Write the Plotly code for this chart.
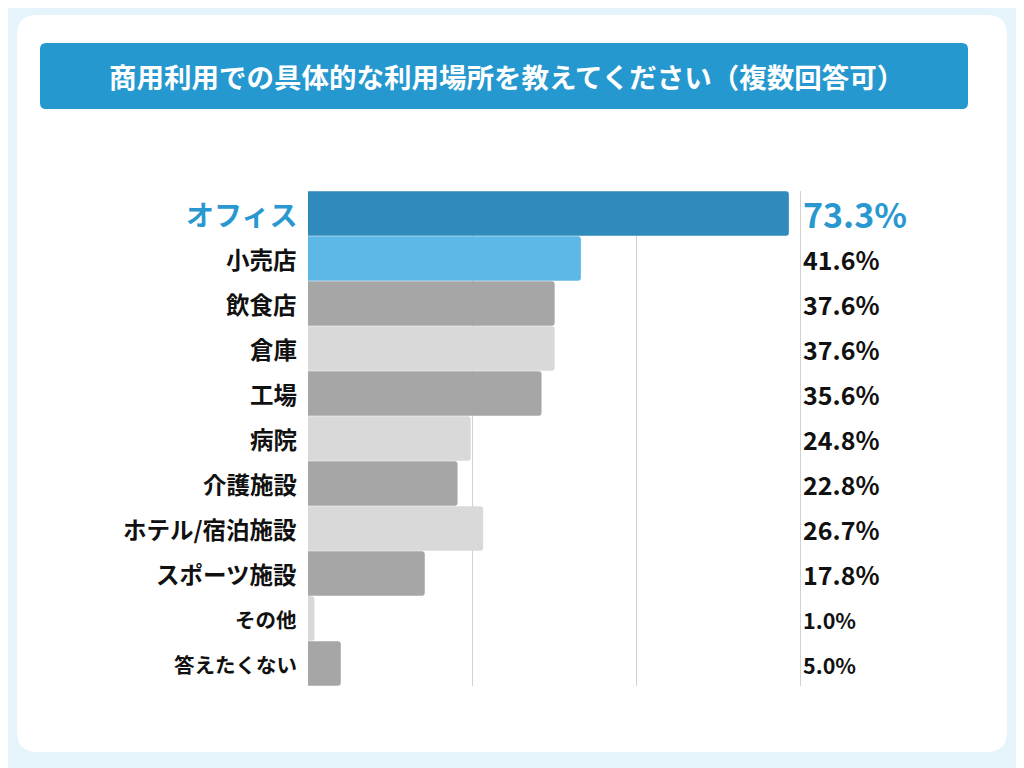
import plotly.graph_objects as go

# データ
categories = ["オフィス", "小売店", "飲食店", "倉庫", "工場", "病院", "介護施設",
              "ホテル/宿泊施設", "スポーツ施設", "その他", "答えたくない"]
values = [73.3, 41.6, 37.6, 37.6, 35.6, 24.8, 22.8, 26.7, 17.8, 1.0, 5.0]
bar_colors = ["#2e8bbb", "#5db8e8", "#a6a6a6", "#d9d9d9", "#a6a6a6", "#d9d9d9",
              "#a6a6a6", "#d9d9d9", "#a6a6a6", "#d9d9d9", "#a6a6a6"]
title = "商用利用での具体的な利用場所を教えてください（複数回答可）"

FONT = "Noto Sans CJK JP"
W, H = 1024, 768
OFF = 8  # ページの余白ぶんずらす


def px_x(v):
    return (v - OFF) / W


def px_y(v):
    return 1 - (v - OFF) / H


def rounded_rect(x0, y0, x1, y1, r):
    # paper座標 (px) で角丸の四角を描く
    X = px_x
    Y = px_y
    return (f"M {X(x0 + r)} {Y(y0)} L {X(x1 - r)} {Y(y0)} "
            f"Q {X(x1)} {Y(y0)} {X(x1)} {Y(y0 + r)} L {X(x1)} {Y(y1 - r)} "
            f"Q {X(x1)} {Y(y1)} {X(x1 - r)} {Y(y1)} L {X(x0 + r)} {Y(y1)} "
            f"Q {X(x0)} {Y(y1)} {X(x0)} {Y(y1 - r)} L {X(x0)} {Y(y0 + r)} "
            f"Q {X(x0)} {Y(y0)} {X(x0 + r)} {Y(y0)} Z")


fig = go.Figure()
fig.add_trace(go.Bar(
    x=values, y=categories, orientation="h",
    marker=dict(color=bar_colors, line=dict(width=0)),
    hoverinfo="skip",
))

annotations = []
for i, (cat, val) in enumerate(zip(categories, values)):
    top = i == 0
    small = val < 10
    if top:
        lsize, vsize = 28, 34
    elif small:
        lsize, vsize = 20.5, 21.5
    else:
        lsize, vsize = 23.5, 25
    annotations.append(dict(
        x=px_x(299), xref="paper", y=cat, yref="y",
        text=f"<b>{cat}</b>", showarrow=False, xanchor="right", yanchor="middle",
        font=dict(family=FONT, size=lsize,
                  color="#2a98d0" if top else "#111111"),
    ))
    annotations.append(dict(
        x=px_x(801), xref="paper", y=cat, yref="y", yshift=-1 if small else 0,
        text=f"<b>{val:.1f}%</b>", showarrow=False, xanchor="left", yanchor="middle",
        font=dict(family=FONT, size=vsize,
                  color="#2a98d0" if top else "#111111"),
    ))

annotations.append(dict(
    x=px_x(506), y=px_y(76), xref="paper", yref="paper",
    xanchor="center", yanchor="middle",
    text=f"<b>{title}</b>", showarrow=False,
    font=dict(family=FONT, size=27.5, color="white"),
))

shapes = [
    dict(type="path", xref="paper", yref="paper", layer="below",
         path=rounded_rect(17, 15, 1007, 752, 20),
         fillcolor="white", line=dict(width=0)),
    dict(type="path", xref="paper", yref="paper", layer="below",
         path=rounded_rect(40, 43, 968, 109, 6),
         fillcolor="#2598cf", line=dict(width=0)),
]

X_MAX = 77.0
fig.update_layout(
    width=W, height=H,
    margin=dict(l=0, r=0, t=0, b=0),
    paper_bgcolor="#e5f3fb",
    plot_bgcolor="rgba(0,0,0,0)",
    showlegend=False,
    bargap=0.01,
    barcornerradius=3,
    shapes=shapes,
    annotations=annotations,
    xaxis=dict(
        domain=[px_x(308), px_x(308 + X_MAX * 492 / 75)],
        range=[0, X_MAX],
        tickvals=[25, 50, 75],
        showticklabels=False,
        showgrid=True, gridcolor="#d2d2d2", gridwidth=1,
        zeroline=False, showline=False, fixedrange=True,
    ),
    yaxis=dict(
        domain=[px_y(686), px_y(191)],
        range=[10.5, -0.5],
        showticklabels=False,
        showgrid=False, zeroline=False, showline=False, fixedrange=True,
    ),
)

fig.write_html("out.html")
